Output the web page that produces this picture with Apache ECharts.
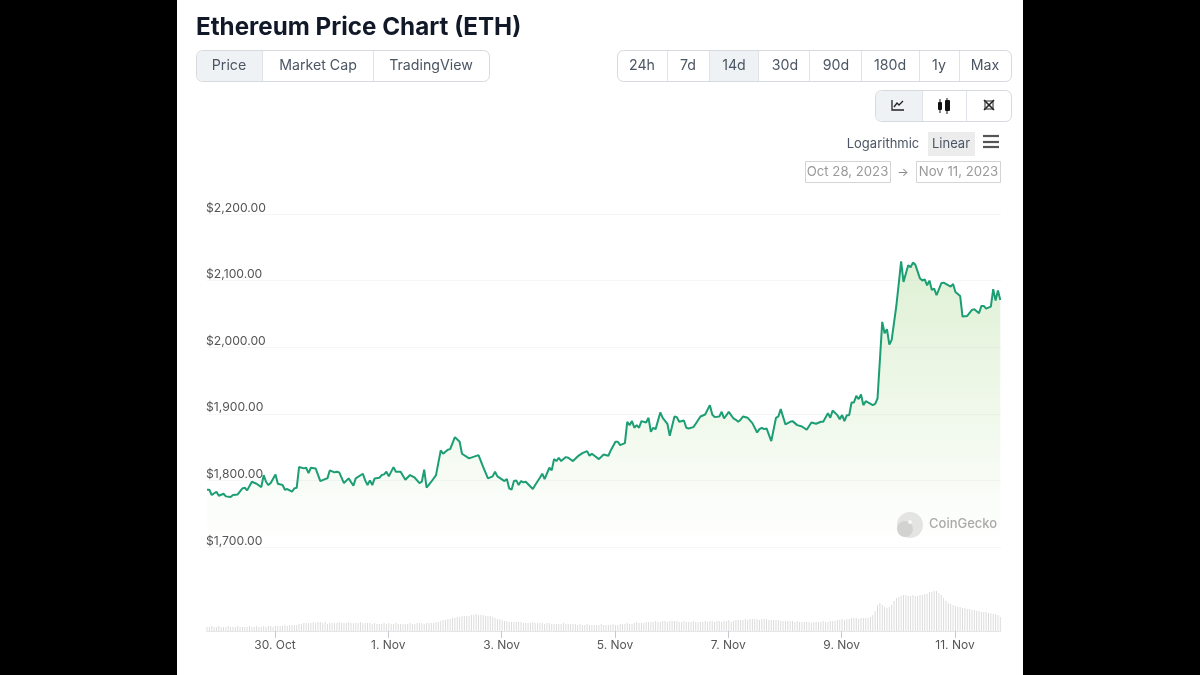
<!DOCTYPE html>
<html><head><meta charset="utf-8">
<style>html,body{margin:0;padding:0;background:#000}#c{width:1200px;height:675px}</style>
<script src="https://cdn.jsdelivr.net/npm/echarts@6/dist/echarts.min.js"></script>
</head><body><div id="c"></div>
<script>
const titleText = 'Ethereum Price Chart (ETH)';
const viewTabs = ['Price', 'Market Cap', 'TradingView'];
const rangeTabs = ['24h', '7d', '14d', '30d', '90d', '180d', '1y', 'Max'];
const scaleLabels = ['Logarithmic', 'Linear'];
const dateFrom = 'Oct 28, 2023';
const dateTo = 'Nov 11, 2023';
const brand = 'CoinGecko';
const tickDates = ['2023-10-30', '2023-11-01', '2023-11-03', '2023-11-05', '2023-11-07', '2023-11-09', '2023-11-11'];
const tickLabels = ['30. Oct', '1. Nov', '3. Nov', '5. Nov', '7. Nov', '9. Nov', '11. Nov'];
const priceTicks = ['$1,700.00', '$1,800.00', '$1,900.00', '$2,000.00', '$2,100.00', '$2,200.00'];
// hours after the first sample, and price read at that hour
const priceHours = [0,1,2,4,5,7,8,10,11,13,15,16,17,19,21,23,24,25,26,27,29,30,32,33,34,36,37,38,39,41,42,43,44,46,48,50,51,52,54,55,56,58,60,62,63,66,67,68,69,70,71,73,74,75,76,77,79,80,82,84,86,88,90,91,92,93,95,97,99,100,102,103,105,107,108,111,
115,117,119,121,122,123,126,127,128,129,130,131,132,133,134,135,138,139,141,142,143,145,146,147,148,149,150,152,153,155,157,159,161,162,163,166,168,170,171,173,174,175,177,178,179,180,181,182,183,184,186,187,188,189,190,192,193,195,196,198,199,200,202,203,204,206,207,209,211,213,214,215,217,218,219,221,223,224,225,
226,227,229,231,233,234,235,236,237,239,241,242,243,245,247,248,250,252,254,256,258,260,261,263,264,265,267,268,269,270,271,272,273,274,275,276,277,278,279,282,283,284,286,287,288,289,290,292,294,295,297,298,299,300,302,303,304,305,306,307,308,309,311,312,315,316,317,319,320,322,324,325,327,328,329,330,332,333,334,335,336];
const prices = [1786,1786,1778,1783,1777,1780,1776,1775,1778,1779,1788,1789,1785,1798,1795,1790,1808,1798,1793,1796,1809,1795,1793,1786,1787,1783,1788,1789,1820,1818,1819,1811,1819,1818,1799,1802,1803,1815,1812,1813,1812,1796,1803,1792,1803,1810,1800,1793,1800,1793,1803,1804,1808,1809,1813,1806,1820,1813,1813,1801,1808,1804,1796,1798,1816,1789,1798,1808,1845,1840,1846,1847,1865,1858,1840,1833,
1838,1820,1803,1806,1813,1806,1799,1802,1788,1786,1799,1800,1793,1799,1797,1798,1787,1793,1804,1810,1802,1819,1815,1832,1829,1834,1829,1835,1834,1829,1836,1841,1844,1837,1840,1832,1839,1837,1845,1858,1858,1853,1856,1888,1883,1889,1879,1883,1879,1889,1887,1894,1873,1879,1877,1902,1894,1885,1867,1896,1895,1888,1890,1879,1878,1880,1885,1896,1899,1913,1899,1895,1896,1903,1893,1903,1893,1891,1888,
1891,1896,1894,1886,1872,1877,1879,1877,1878,1859,1894,1896,1907,1884,1888,1889,1883,1881,1876,1887,1885,1888,1888,1901,1894,1905,1898,1892,1898,1889,1898,1898,1917,1917,1927,1922,1929,1913,1919,1913,1915,1923,2038,2021,2027,2004,2011,2063,2129,2098,2123,2120,2127,2124,2103,2100,2102,2093,2100,2086,2088,2078,2096,2097,2091,2095,2083,2077,2046,2047,2056,2057,2051,2062,2062,2058,2061,2087,2070,2085,2071];
// relative hourly volume, one value per hour
const volumes = [4,4,5,4,4,5,4,4,4,5,4,4,4,5,4,4,4,4,5,4,4,5,4,4,5,4,5,5,4,5,
5,5,5,6,5,6,6,6,6,7,7,8,8,8,8,9,8,9,9,8,9,7,8,8,8,8,9,8,8,8,
9,8,8,8,8,9,8,8,8,8,7,8,7,7,7,8,7,8,7,7,8,7,7,7,7,7,8,7,7,8,8,8,7,8,8,8,
8,9,9,10,11,11,12,12,13,13,14,14,15,15,15,15,16,16,17,16,16,16,15,15,15,14,13,12,12,11,
10,10,9,9,9,9,9,9,8,8,8,8,9,8,8,8,8,7,8,8,7,7,7,7,7,8,7,7,7,7,7,6,7,6,6,7,6,6,6,6,6,7,6,6,6,6,7,6,6,7,
7,7,8,7,7,8,9,8,8,8,9,9,9,9,10,9,9,10,10,9,10,10,10,10,9,9,10,9,9,9,10,9,9,9,9,10,9,10,10,9,10,10,9,10,10,11,9,10,11,11,
11,11,12,11,12,12,12,12,11,12,12,12,11,11,11,11,11,10,10,10,10,10,10,9,10,9,9,9,9,9,8,9,9,9,9,10,9,9,10,10,
10,11,11,12,11,12,12,13,13,13,12,13,13,13,13,14,16,20,26,28,
26,24,23,24,26,30,33,34,35,36,36,35,35,36,35,35,36,36,37,37,39,39,40,40,38,36,33,30,28,27,26,25,24,24,23,23,22,22,21,21,20,20,19,19,19,18,18,17,17,16,14];

const FONT = 'Inter';
const HOUR = 3600000;
const T0 = Date.UTC(2023, 9, 30) - 28.8 * HOUR;
const priceData = priceHours.map((h, i) => [T0 + h * HOUR, prices[i]]);
const volumeData = volumes.map((v, i) => [T0 + i * HOUR, v]);
const tMin = T0, tMax = T0 + 336.3 * HOUR;
const tickTimes = tickDates.map(d => Date.parse(d + 'T00:00:00Z'));

const els = [];
function rect(x, y, w, h, fill, stroke, r, z) {
  els.push({type:'rect', silent:true, z:z||1, shape:{x, y, width:w, height:h, r:r||0}, style:{fill:fill||'transparent', stroke:stroke||null, lineWidth:1}});
}
function line(x1, y1, x2, y2, color, lw) {
  els.push({type:'line', silent:true, z:3, shape:{x1, y1, x2, y2}, style:{stroke:color, lineWidth:lw||1}});
}
function text(s, x, y, size, color, weight, align) {
  els.push({type:'text', silent:true, z:4, x, y, style:{text:s, fontFamily:FONT, fontSize:size, fontWeight:weight||400, fill:color, align:align||'center', verticalAlign:'middle'}});
}
function group(x0, x1, y0, y1, dividers, active) {
  const a = [x0].concat(dividers, [x1]);
  rect(x0 + .5, y0 + .5, x1 - x0 - 1, y1 - y0, '#fff', '#d6d9de', 6, 1);
  rect(a[active] + 1, y0 + 1, a[active + 1] - a[active] - 1, y1 - y0 - 1, '#eff2f5', null, active === 0 ? [6,0,0,6] : 0, 2);
  dividers.forEach(d => line(d + .5, y0 + 1, d + .5, y1, '#e0e3e7'));
}
// white page
rect(177, 0, 846, 675, '#fff', null, 0, -5);
// tabs
group(196, 490, 50, 81, [262, 373], 0);
[229, 318, 431].forEach((x, i) => text(viewTabs[i], x, 66, 14.2, '#4b5563'));
group(617, 1012, 50, 81, [667, 709, 758, 809, 861, 919, 959], 2);
[642, 688, 734, 785, 836, 890, 939, 985].forEach((x, i) => text(rangeTabs[i], x, 66, 14.2, '#4b5563'));
group(875, 1012, 90, 121, [922, 966], 0);
// line-chart icon
els.push({type:'polyline', silent:true, z:3, shape:{points:[[892,100],[892,110],[904,110]]}, style:{stroke:'#222', lineWidth:1.3, fill:null}});
els.push({type:'polyline', silent:true, z:3, shape:{points:[[894,107],[897,103],[899,105],[903,101]]}, style:{stroke:'#222', lineWidth:1.3, fill:null}});
// candle icon
line(940, 99, 940, 113, '#111', 1); line(947, 98, 947, 114, '#111', 1);
rect(938, 102, 4, 8, '#111', null, 1, 3); rect(945, 100, 5, 11, '#111', null, 1, 3);
// expand icon
rect(985, 101, 8, 8, 'transparent', '#222', 0, 3);
[[984,100,994,110],[994,100,984,110]].forEach(p => line(p[0], p[1], p[2], p[3], '#222', 1.6));
// scale switch
text(scaleLabels[0], 883, 144, 13, '#4b5563');
rect(928, 132, 47, 24, '#ececec', null, 0, 1);
text(scaleLabels[1], 951, 144, 13, '#4b5563');
[136, 142, 147].forEach(y => line(983, y, 999, y, '#555', 2.2));
// date range
rect(805.5, 161.5, 85, 21, '#fff', '#d4d4d4', 0, 1);
rect(916.5, 161.5, 84, 21, '#fff', '#d4d4d4', 0, 1);
text(dateFrom, 847.5, 172, 13.2, '#9a9a9a');
text(dateTo, 958.5, 172, 13.2, '#9a9a9a');
text('→', 903, 172, 12, '#888');
// watermark
els.push({type:'circle', silent:true, z:5, shape:{cx:910, cy:525, r:13}, style:{fill:'#e4e4e2'}});
els.push({type:'circle', silent:true, z:5, shape:{cx:905, cy:529, r:8}, style:{fill:'#d2d2d0'}});
els.push({type:'circle', silent:true, z:5, shape:{cx:910, cy:522, r:2}, style:{fill:'#f7f7f7'}});
els.push({type:'text', silent:true, z:5, x:929, y:524, style:{text:brand, fontFamily:FONT, fontSize:13, fontWeight:500, fill:'#aaaaaa', align:'left', verticalAlign:'middle'}});

const chart = echarts.init(document.getElementById('c'), null, {renderer:'canvas'});
chart.setOption({
  animation:false,
  backgroundColor:'#000',
  textStyle:{fontFamily:FONT},
  title:{text:titleText, left:191, top:11, textStyle:{fontFamily:FONT, fontSize:24.2, fontWeight:700, color:'#111827'}},
  grid:[
    {left:207, width:794, top:214, height:333},
    {left:207, width:794, top:547, height:84}
  ],
  xAxis:[
    {type:'value', gridIndex:0, min:tMin, max:tMax, show:false, splitLine:{show:false}},
    {type:'value', gridIndex:1, min:tMin, max:tMax,
      axisLine:{lineStyle:{color:'#e4e6ea', width:1}},
      axisTick:{show:true, length:7, customValues:tickTimes, lineStyle:{color:'#c4c8cf'}},
      axisLabel:{show:true, margin:8, fontFamily:FONT, fontSize:12, color:'#555', hideOverlap:false, showMinLabel:true, showMaxLabel:true, customValues:tickTimes,
        formatter:(v) => tickLabels[tickTimes.indexOf(+v)] || ''},
      splitLine:{show:false}}
  ],
  yAxis:[
    {type:'value', gridIndex:0, min:1700, max:2200, interval:100,
      axisLine:{show:false}, axisTick:{show:false},
      splitLine:{lineStyle:{color:'#f6f6f6', width:1}},
      axisLabel:{inside:true, margin:-1, verticalAlign:'bottom', lineHeight:12, fontFamily:FONT, fontSize:12.2, color:'#555',
        formatter:(v) => priceTicks[Math.round((v - 1700) / 100)]}},
    {type:'value', gridIndex:1, min:0, max:84, show:false, splitLine:{show:false}}
  ],
  series:[
    {type:'line', name:'Price', xAxisIndex:0, yAxisIndex:0, data:priceData, showSymbol:false, symbol:'none', z:3,
      lineStyle:{color:'#1c9e74', width:2},
      areaStyle:{color:new echarts.graphic.LinearGradient(0,0,0,1,[
        {offset:0, color:'rgba(176,219,150,0.58)'},
        {offset:0.75, color:'rgba(176,219,150,0.14)'},
        {offset:1, color:'rgba(176,219,150,0)'}])}},
    {type:'bar', name:'Volume', xAxisIndex:1, yAxisIndex:1, data:volumeData, barWidth:1, itemStyle:{color:'#dcdcdc'}}
  ],
  graphic:{elements:els}
});
</script></body></html>
